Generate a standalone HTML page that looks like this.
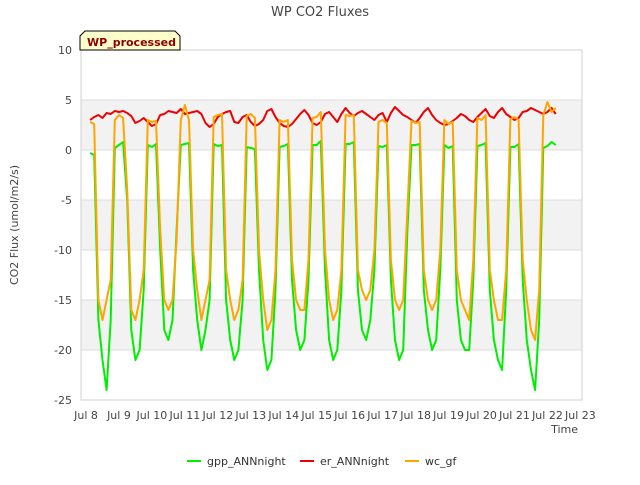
<!DOCTYPE html>
<html><head><meta charset="utf-8"><style>
body{margin:0;background:#fff;font-family:"Liberation Sans","DejaVu Sans",sans-serif;}
svg text{font-family:"DejaVu Sans","Liberation Sans",sans-serif;}
</style></head><body>
<svg id="chart" width="640" height="480" xmlns="http://www.w3.org/2000/svg">
<text x="320" y="16" text-anchor="middle" font-size="13" fill="#444">WP CO2 Fluxes</text>
<g id="plot"></g>
<g>
<path d="M80,50 L80,36 L85,31 L175,31 L180,36 L180,50 Z" fill="#ffffcc" stroke="#000" stroke-width="1"/>
<text x="87" y="46" font-size="11" font-weight="bold" fill="#8b0000">WP_processed</text>
</g>
<text x="18" y="225" transform="rotate(-90 18 225)" text-anchor="middle" font-size="11" fill="#444">CO2 Flux (umol/m2/s)</text>
<text x="578" y="433" text-anchor="end" font-size="11" fill="#444">Time</text>
<g>
<g><line x1="187" y1="461" x2="201" y2="461" stroke="#00ee00" stroke-width="2"/><text x="207" y="465" font-size="11" fill="#333">gpp_ANNnight</text></g>
<g><line x1="300" y1="461" x2="314" y2="461" stroke="#ee0000" stroke-width="2"/><text x="320" y="465" font-size="11" fill="#333">er_ANNnight</text></g>
<g><line x1="405" y1="461" x2="419" y2="461" stroke="#ffa500" stroke-width="2"/><text x="425" y="465" font-size="11" fill="#333">wc_gf</text></g>
</g>
</svg>
<script>
const yTicks=[10,5,0,-5,-10,-15,-20,-25];
const xTickLabels=["Jul 8","Jul 9","Jul 10","Jul 11","Jul 12","Jul 13","Jul 14","Jul 15","Jul 16","Jul 17","Jul 18","Jul 19","Jul 20","Jul 21","Jul 22","Jul 23"];
const t0=8.125, dt=0.125;
const gpp=[-0.3,-0.5,-17,-21,-24,-17,0.2,
0.5,0.8,-5,-18,-21,-20,-14,0.5,
0.3,0.6,-10,-18,-19,-17,-8,0.5,
0.6,0.7,-12,-17,-20,-18,-15,0.6,
0.4,0.5,-15,-19,-21,-20,-15,0.3,
0.2,0.1,-12,-19,-22,-21,-14,0.3,
0.4,0.6,-13,-18,-20,-19,-13,0.5,
0.5,0.9,-12,-19,-21,-20,-14,0.6,
0.6,0.8,-14,-18,-19,-17,-12,0.4,
0.3,0.5,-13,-19,-21,-20,-8,0.5,
0.5,0.6,-14,-18,-20,-19,-12,0.5,
0.2,0.4,-15,-19,-20,-20,-13,0.4,
0.5,0.7,-14,-19,-21,-22,-14,0.3,
0.3,0.6,-13,-19,-22,-24,-17,0.2,
0.4,0.8,0.5];
const er=[3.0,3.3,3.5,3.2,3.7,3.6,3.9,
3.8,3.9,3.7,3.4,2.7,2.9,3.2,2.8,
2.4,2.6,3.5,3.6,3.9,3.8,3.7,4.1,
3.6,3.7,3.8,3.9,3.6,2.7,2.3,2.6,
3.3,3.6,3.8,3.9,2.8,2.7,3.3,3.5,
2.8,2.4,2.6,3.0,3.9,4.1,3.3,2.7,
2.4,2.3,2.6,3.1,3.6,4.0,3.5,2.7,
2.5,2.8,3.6,3.8,3.3,2.8,3.6,4.2,
3.7,3.4,3.7,3.9,3.6,3.3,3.0,3.5,
3.7,2.8,3.7,4.3,3.9,3.5,3.3,3.0,
2.7,3.2,3.8,4.2,3.5,3.0,2.7,2.5,
2.6,2.9,3.2,3.6,3.4,3.0,2.8,3.3,
3.7,4.1,3.4,3.2,3.8,4.2,3.6,3.3,
3.0,3.2,3.8,3.9,4.2,4.0,3.8,3.6,
3.8,4.2,3.6];
const wc=[2.8,2.6,-15,-17,-15,-13,3.0,
3.5,3.2,-4,-16,-17,-15,-12,3.0,
2.8,2.9,-8,-15,-16,-15,-9,3.0,
4.5,3.0,-10,-14,-17,-15,-13,3.3,
3.5,3.6,-12,-15,-17,-16,-13,3.4,
3.6,3.2,-10,-15,-18,-17,-12,3.0,
2.8,3.0,-11,-15,-16,-16,-11,3.2,
3.3,3.8,-10,-15,-17,-16,-12,3.5,
3.4,3.5,-12,-14,-15,-14,-10,2.8,
3.0,2.7,-11,-15,-16,-15,-6,2.9,
2.7,2.8,-12,-15,-16,-15,-10,3.0,
2.6,2.8,-12,-15,-16,-17,-11,3.2,
3.0,3.5,-12,-15,-17,-17,-12,3.1,
3.3,3.0,-11,-15,-18,-19,-14,3.5,
4.8,3.8,4.2];
const X0=81,X1=582,Y0=50,Y1=400;
function xs(t){return X0+(t-8)*(X1-X0)/15.2+5;}
function ys(v){return Y0+(10-v)*(Y1-Y0)/35;}
const NS="http://www.w3.org/2000/svg";
const plot=document.getElementById('plot');
function mk(tag,attrs){const e=document.createElementNS(NS,tag);for(const k in attrs)e.setAttribute(k,attrs[k]);plot.appendChild(e);return e;}
mk('rect',{x:X0,y:Y0,width:X1-X0,height:Y1-Y0,fill:'#fff'});
for(let i=0;i<yTicks.length-1;i++){
  if(i%2===1){const b=mk('rect',{x:X0,y:ys(yTicks[i]),width:X1-X0,height:ys(yTicks[i+1])-ys(yTicks[i]),fill:'#f2f2f2'});
  
  }
}
yTicks.forEach(v=>{
  const g=mk('line',{x1:X0,x2:X1,y1:ys(v),y2:ys(v),stroke:'#dcdcdc','stroke-width':1});
  
  
  const t=mk('text',{x:X0-9,y:ys(v)+4,'text-anchor':'end','font-size':11,fill:'#444'});
  t.textContent=v;
  
  
});
mk('rect',{x:X0,y:Y0,width:X1-X0,height:Y1-Y0,fill:'none',stroke:'#d0d0d0'});
xTickLabels.forEach((l,i)=>{
  const t=mk('text',{x:xs(8+i),y:419,'text-anchor':'middle','font-size':11,fill:'#444'});
  t.textContent=l;
  
  
});
function series(arr,color,name){
  const d=arr.map((v,i)=>(i?'L':'M')+xs(t0+i*dt).toFixed(1)+','+ys(v).toFixed(1)).join(' ');
  const p=mk('path',{d:d,fill:'none',stroke:color,'stroke-width':2,'stroke-linejoin':'round'});
  
  
}
series(gpp,'#00ee00','gpp-line');
series(er,'#ee0000','er-line');
series(wc,'#ffa500','wc-line');
</script>
</body></html>
